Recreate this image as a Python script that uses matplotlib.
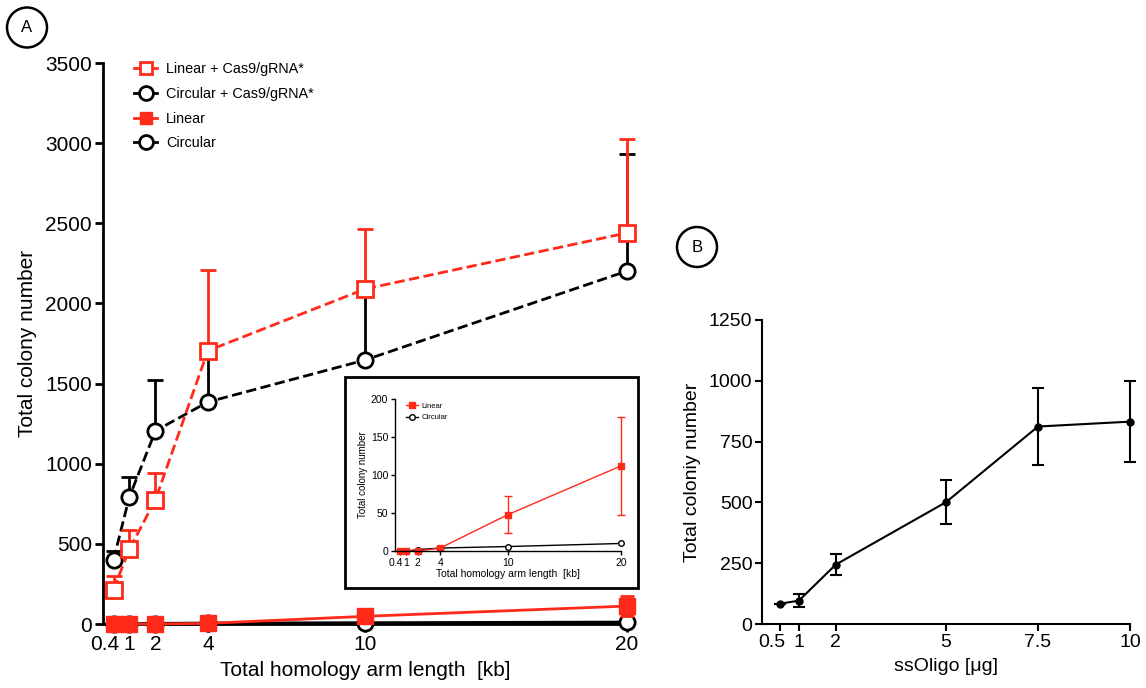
import matplotlib.pyplot as plt
from matplotlib.lines import Line2D
from matplotlib.transforms import ScaledTranslation
import numpy as np

plt.rcParams['font.family'] = ['Liberation Sans', 'DejaVu Sans']

# panel A data
kb = [0.4, 1, 2, 4, 10, 20]
lin_cas9 = [215, 465, 775, 1705, 2090, 2440]
lin_cas9_err = [85, 120, 167, 503, 374, 587]
circ_cas9 = [400, 790, 1205, 1385, 1647, 2202]
circ_cas9_err = [57, 130, 320, 320, 450, 730]
linear = [0, 0, 0, 4, 48, 112]
linear_err = [0, 0, 1, 1, 24, 64]
circular = [0, 0, 2, 4, 6, 10]
kb_ticks = ['0.4', '1', '2', '4', '10', '20']

# panel B data
oligo = [0.5, 1, 2, 5, 7.5, 10]
colonies = [84, 96, 244, 501, 812, 832]
colonies_err = [0, 28, 42, 90, 158, 167]
oligo_ticks = ['0.5', '1', '2', '5', '7.5', '10']

RED = '#ff2a1a'

fig = plt.figure(figsize=(11.46, 6.88), dpi=100)


def style(ax, lw=2, size=15, tl=6):
    ax.spines['top'].set_visible(False)
    ax.spines['right'].set_visible(False)
    ax.spines['left'].set_linewidth(lw)
    ax.spines['bottom'].set_linewidth(lw)
    ax.tick_params(width=lw, length=tl, labelsize=size, pad=2)


def nudge_first(ax, dx_px):
    # first tick label sits left of its tick, like the original
    lab = ax.get_xticklabels()[0]
    lab.set_ha('right')
    lab.set_transform(lab.get_transform() + ScaledTranslation(dx_px / 100, 0, fig.dpi_scale_trans))


# ---- panel A main
ax = fig.add_axes([0.0899, 0.093, 0.4572, 0.8154])
up = lambda e: [np.zeros(len(e)), e]

ax.errorbar(kb, circular, color='k', marker='o', ms=11, mfc='white', mec='k',
            mew=2, lw=2.5, clip_on=False, zorder=3)
ax.errorbar(kb, linear, yerr=linear_err, color=RED, marker='s', ms=11, mfc=RED,
            mec=RED, lw=2, elinewidth=2, capsize=5, capthick=2, clip_on=False, zorder=4)
ax.errorbar(kb, circ_cas9, yerr=up(circ_cas9_err), color='k', marker='o', ms=11,
            mfc='white', mec='k', mew=2, lw=2, ls='--', elinewidth=2, capsize=6,
            capthick=2, clip_on=False, zorder=5)
ax.errorbar(kb, lin_cas9, yerr=up(lin_cas9_err), color=RED, marker='s', ms=11,
            mfc='white', mec=RED, mew=2, lw=2, ls='--', elinewidth=2, capsize=6,
            capthick=2, clip_on=False, zorder=6)
ax.set_xlim(0, 20)
ax.set_ylim(0, 3500)
ax.set_yticks(range(0, 3501, 500))
ax.set_xticks(kb)
ax.set_xticklabels(kb_ticks)
ax.set_xlabel('Total homology arm length  [kb]', fontsize=15, labelpad=5)
ax.set_ylabel('Total colony number', fontsize=15, labelpad=6)
style(ax)
nudge_first(ax, 6)

handles = [
    Line2D([], [], color=RED, marker='s', ms=9, mfc='white', mec=RED, mew=2, lw=2),
    Line2D([], [], color='k', marker='o', ms=10, mfc='white', mec='k', mew=2, lw=2),
    Line2D([], [], color=RED, marker='s', ms=9, mfc=RED, mec=RED, lw=2),
    Line2D([], [], color='k', marker='o', ms=10, mfc='white', mec='k', mew=2, lw=2),
]
ax.legend(handles, ['Linear + Cas9/gRNA*', 'Circular + Cas9/gRNA*', 'Linear', 'Circular'],
          loc='upper left', bbox_to_anchor=(0.035, 1.025), frameon=False, fontsize=10.4,
          handlelength=1.6, handletextpad=0.6, labelspacing=0.75)

# ---- inset
frame = plt.Rectangle((0.301, 0.1453), 0.2557, 0.3067, transform=fig.transFigure,
                      fill=True, facecolor='white', edgecolor='k', lw=2, zorder=10)
fig.patches.append(frame)
ins = fig.add_axes([0.3447, 0.199, 0.1972, 0.2211], zorder=11)
ins.patch.set_alpha(0)
ins.errorbar(kb, circular, color='k', marker='o', ms=4, mfc='white', mec='k',
             mew=1, lw=1, clip_on=False)
ins.errorbar(kb, linear, yerr=linear_err, color=RED, marker='s', ms=4, mfc=RED,
             mec=RED, lw=1, elinewidth=1, capsize=3, clip_on=False)
ins.set_xlim(0, 20)
ins.set_ylim(0, 200)
ins.set_yticks(range(0, 201, 50))
ins.set_xticks(kb)
ins.set_xticklabels(kb_ticks)
ins.set_xlabel('Total homology arm length  [kb]', fontsize=7.5, labelpad=1)
ins.set_ylabel('Total colony number', fontsize=7, labelpad=2)
style(ins, lw=1, size=7.5, tl=3)
nudge_first(ins, 3)
ins.legend([Line2D([], [], color=RED, marker='s', ms=4, lw=1),
            Line2D([], [], color='k', marker='o', ms=4, mfc='white', lw=1)],
           ['Linear', 'Circular'], loc='upper left', bbox_to_anchor=(0.02, 1.02),
           frameon=False, fontsize=5.5, handlelength=1.5, handletextpad=0.5)

# ---- panel B
bx = fig.add_axes([0.665, 0.093, 0.321, 0.4419])
bx.errorbar(oligo, colonies, yerr=colonies_err, color='k', marker='o', ms=5,
            lw=1.5, elinewidth=1.5, capsize=4, capthick=1.5, clip_on=False)
bx.set_xlim(0, 10)
bx.set_ylim(0, 1250)
bx.set_yticks(range(0, 1251, 250))
bx.set_xticks(oligo)
bx.set_xticklabels(oligo_ticks)
bx.set_xlabel('ssOligo [\u03bcg]', fontsize=14, labelpad=5)
bx.set_ylabel('Total coloniy number', fontsize=14, labelpad=6)
style(bx, lw=1.5, size=14, tl=5)
nudge_first(bx, 5)

# panel letters
for x, y, s in [(27 / 1146, 1 - 27.5 / 688, 'A'), (697 / 1146, 1 - 247 / 688, 'B')]:
    fig.text(x, y, s, ha='center', va='center', fontsize=12,
             bbox=dict(boxstyle='circle,pad=0.75', fc='white', ec='k', lw=1.8))

fig.savefig('out.png', dpi=100)
